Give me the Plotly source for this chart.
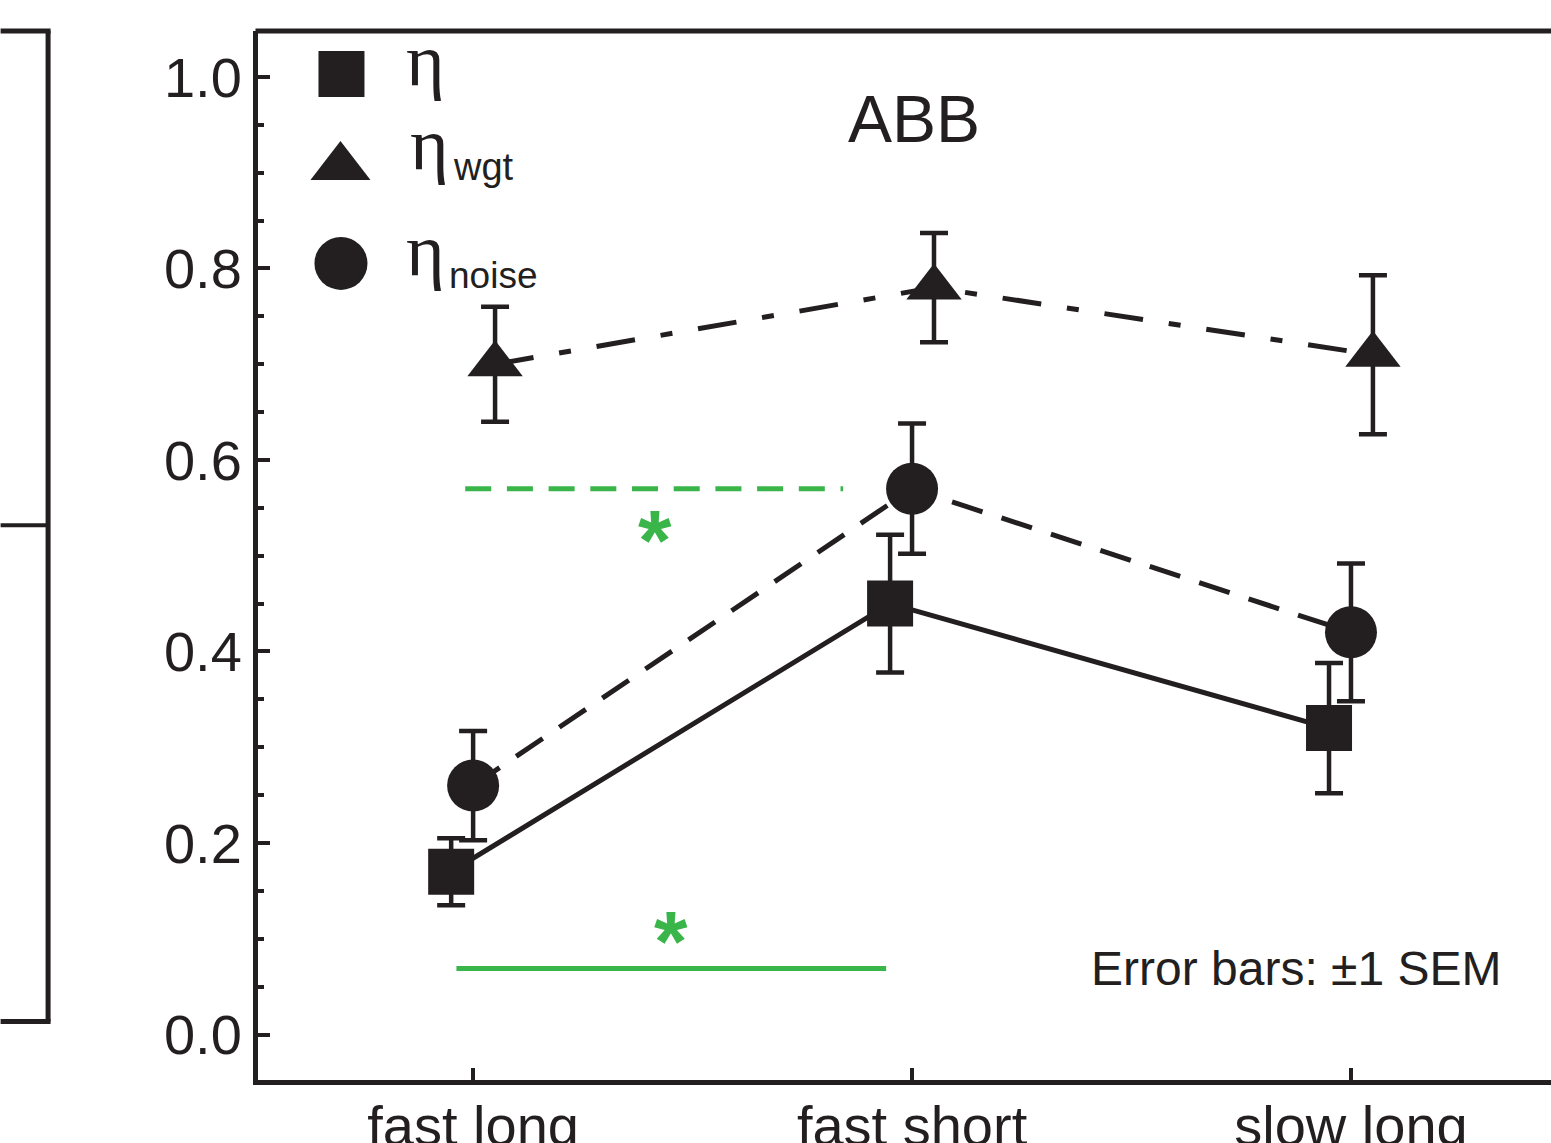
import plotly.graph_objects as go

# ---- data -------------------------------------------------------------
conditions = ["fast long", "fast short", "slow long"]

eta = [0.17, 0.45, 0.32]
eta_sem = [0.035, 0.072, 0.068]

eta_wgt = [0.70, 0.78, 0.71]
eta_wgt_sem = [0.060, 0.057, 0.083]

eta_noise = [0.26, 0.57, 0.42]
eta_noise_sem = [0.057, 0.068, 0.072]

# significance markers: level, span along the condition axis
sig_noise_level = 0.57
sig_noise_span = [-0.018, 0.843]
sig_eta_level = 0.069
sig_eta_span = [-0.038, 0.941]

y_ticks = [0.0, 0.2, 0.4, 0.6, 0.8, 1.0]

# ---- style ------------------------------------------------------------
INK = "#231F20"
GREEN = "#3AB54A"
SANS = "Liberation Sans, Arial, Helvetica, sans-serif"
SERIF = "Liberation Serif, Times New Roman, serif"

W, H = 1551, 1143
L, R, T, B = 257.5, 0, 31, 62.5
PW, PH = W - L - R, H - T - B

X_RANGE = [-0.4901, 2.4557]
Y_RANGE = [-0.0475, 1.0480]

offsets = {"eta": -0.05, "noise": 0.0, "wgt": 0.05}
xi = list(range(len(conditions)))


def px_x(p):
    return (p - L) / PW


def px_y(p):
    return (H - B - p) / PH


def err(vals):
    return dict(type="data", array=vals, visible=True, color=INK,
                thickness=4.5, width=14)


fig = go.Figure()

# significance lines
fig.add_trace(go.Scatter(
    x=sig_noise_span, y=[sig_noise_level] * 2, mode="lines",
    line=dict(color=GREEN, width=5, dash="26px,15.7px"),
    hoverinfo="skip", showlegend=False))
fig.add_trace(go.Scatter(
    x=sig_eta_span, y=[sig_eta_level] * 2, mode="lines",
    line=dict(color=GREEN, width=5),
    hoverinfo="skip", showlegend=False))

# three efficiency measures
fig.add_trace(go.Scatter(
    x=[i + offsets["wgt"] for i in xi], y=eta_wgt, error_y=err(eta_wgt_sem),
    mode="lines+markers", cliponaxis=False,
    line=dict(color=INK, width=5, dash="39px,26px,12px,26px"),
    marker=dict(symbol="triangle-up", size=48, color=INK, opacity=1),
    showlegend=False))
fig.add_trace(go.Scatter(
    x=[i + offsets["noise"] for i in xi], y=eta_noise, error_y=err(eta_noise_sem),
    mode="lines+markers", cliponaxis=False,
    line=dict(color=INK, width=5, dash="32px,20px"),
    marker=dict(symbol="circle", size=52, color=INK, opacity=1),
    showlegend=False))
fig.add_trace(go.Scatter(
    x=[i + offsets["eta"] for i in xi], y=eta, error_y=err(eta_sem),
    mode="lines+markers", cliponaxis=False,
    line=dict(color=INK, width=5),
    marker=dict(symbol="square", size=46, color=INK, opacity=1),
    showlegend=False))

# legend keys, placed on a pixel-scaled overlay
fig.add_trace(go.Scatter(
    x=[341, 340, 340.5], y=[74, 167, 263.5], mode="markers",
    marker=dict(symbol=["square", "triangle-up", "circle"],
                size=[46, 52, 53], color=INK, opacity=1,
                line=dict(width=0)),
    xaxis="x2", yaxis="y2", cliponaxis=False,
    hoverinfo="skip", showlegend=False))

annotations = []


def label(text, x, y, size, family=SANS, xanchor="center", yanchor="middle",
          color=INK, angle=0):
    annotations.append(dict(
        text=text, x=x, y=y, xref="x2", yref="y2", showarrow=False,
        xanchor=xanchor, yanchor=yanchor, textangle=angle,
        font=dict(family=family, size=size, color=color)))


# legend labels
label("η", 404, 60, 74, family=SERIF, xanchor="left")
label("η", 408, 144, 74, family=SERIF, xanchor="left")
label("wgt", 451, 167, 38, xanchor="left")
label("η", 404, 250, 74, family=SERIF, xanchor="left")
label("noise", 447, 276, 37, xanchor="left")

# panel text
label("ABB", 914, 119, 66)
label("Error bars: ±1 SEM", 1503, 969, 48, xanchor="right")
label("Efficiency", 100, 553.5, 66, angle=-90)

# significance asterisks
label("<b>*</b>", 654.5, 540, 86, color=GREEN)
label("<b>*</b>", 671, 941, 86, color=GREEN)

# frame pieces: top edge of this panel, right edge of the neighbouring one
shapes = [
    dict(type="line", xref="paper", yref="paper",
         x0=px_x(255), x1=1.0, y0=1.0, y1=1.0,
         line=dict(color=INK, width=5)),
    dict(type="line", xref="paper", yref="paper",
         x0=px_x(47.5), x1=px_x(47.5), y0=px_y(31), y1=px_y(1022),
         line=dict(color=INK, width=5)),
    dict(type="line", xref="paper", yref="paper",
         x0=px_x(0), x1=px_x(50), y0=px_y(31), y1=px_y(31),
         line=dict(color=INK, width=5)),
    dict(type="line", xref="paper", yref="paper",
         x0=px_x(0), x1=px_x(47.5), y0=px_y(525.5), y1=px_y(525.5),
         line=dict(color=INK, width=4)),
    dict(type="line", xref="paper", yref="paper",
         x0=px_x(0), x1=px_x(50), y0=px_y(1022), y1=px_y(1022),
         line=dict(color=INK, width=5)),
]

fig.update_layout(
    width=W, height=H, autosize=False,
    margin=dict(l=L, r=R, t=T, b=B, pad=0),
    paper_bgcolor="white", plot_bgcolor="white",
    font=dict(family=SANS, color=INK),
    annotations=annotations, shapes=shapes,
    xaxis=dict(
        range=X_RANGE, fixedrange=True, automargin=False,
        showline=True, linewidth=5, linecolor=INK,
        ticks="inside", ticklen=12, tickwidth=4, tickcolor=INK,
        tickvals=xi, ticktext=conditions, ticklabelstandoff=-7,
        tickfont=dict(size=56, color=INK, family=SANS),
        showgrid=False, zeroline=False),
    yaxis=dict(
        range=Y_RANGE, fixedrange=True, automargin=False,
        showline=True, linewidth=5, linecolor=INK,
        ticks="inside", ticklen=12, tickwidth=4, tickcolor=INK,
        tickvals=y_ticks, tickformat=".1f",
        tickfont=dict(size=56, color=INK, family=SANS),
        minor=dict(dtick=0.05, tick0=0, ticks="inside", ticklen=6,
                   tickwidth=4, tickcolor=INK, showgrid=False),
        showgrid=False, zeroline=False),
    xaxis2=dict(overlaying="x", anchor="y2", range=[L, W - R],
                visible=False, fixedrange=True),
    yaxis2=dict(overlaying="y", anchor="x2", range=[H - B, T],
                visible=False, fixedrange=True),
)

fig.write_html("out.html")
